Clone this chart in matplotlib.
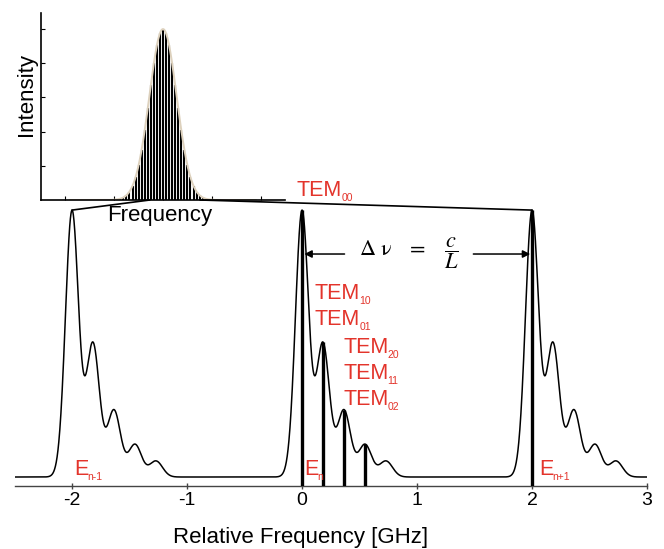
#!/usr/bin/env python3
"""
Longitudinal and transverse cavity modes under a gain profile (sketch).
"""

import matplotlib

matplotlib.use("Agg")
import matplotlib.pyplot as plt
import numpy as np
from matplotlib.patches import ConnectionPatch

plt.rcParams["font.family"] = ["Liberation Sans", "DejaVu Sans"]
plt.rcParams["axes.unicode_minus"] = False
plt.rcParams["mathtext.fontset"] = "stix"

FIG_W, FIG_H = 664, 549
RED = "#e3342b"

# longitudinal mode centres (GHz) and transverse mode offsets / strengths
LONG_MODES = [-2.0, 0.0, 2.0]
TRANS_OFFSETS = [0.0, 0.182, 0.365, 0.548, 0.73]
TRANS_AMPS = [1.0, 0.5, 0.25, 0.122, 0.06]
LINE_SIGMA = 0.057

# thick mode markers
BAR_FREQS = [0.0, 0.182, 0.365, 0.548, 2.0]

X_TICKS = [-2, -1, 0, 1, 2, 3]
X_TICK_LABELS = ["-2", "-1", "0", "1", "2", "3"]

# inset gain profile and comb
GAIN_CENTER = 2.5
GAIN_SIGMA = 0.28
GAIN_PEAK = 5.0
COMB_START, COMB_STOP, COMB_STEP = 1.25, 3.75, 0.0625
INSET_XTICKS = [0.5, 1.5, 2.5, 3.5, 4.5]
INSET_YTICKS = [1, 2, 3, 4, 5]


def px_box(left, top, right, bottom):
    return [left / FIG_W, 1 - bottom / FIG_H, (right - left) / FIG_W, (bottom - top) / FIG_H]


def spectrum(x):
    y = np.zeros_like(x, dtype=float)
    for centre in LONG_MODES:
        for off, amp in zip(TRANS_OFFSETS, TRANS_AMPS):
            y += amp * np.exp(-((x - centre - off) ** 2) / (2 * LINE_SIGMA**2))
    return y


def gain(x):
    return GAIN_PEAK * np.exp(-((x - GAIN_CENTER) ** 2) / (2 * GAIN_SIGMA**2))


def sub_label(fig, ax, x, y, main, sub, renderer):
    t = ax.text(x, y, main, color=RED, fontsize=15.5, ha="left", va="baseline", clip_on=False)
    bb = t.get_window_extent(renderer)
    disp = ax.transData.transform((x, y))
    fig.text((bb.x1 - 1) / FIG_W, (disp[1] - 5) / FIG_H, sub, color=RED, fontsize=7.5,
             ha="left", va="baseline")


fig = plt.figure(figsize=(FIG_W / 100, FIG_H / 100), dpi=100)

# main axes
ax = fig.add_axes(px_box(14.5, 200, 647, 486))
xs = np.linspace(-2.5, 3.0, 3000)
ax.plot(xs, spectrum(xs), color="black", lw=1.1, zorder=3)
ybot = -0.0338
bar_tops = spectrum(np.array(BAR_FREQS))
ax.vlines(BAR_FREQS, ybot, bar_tops, color="black", lw=2.4, zorder=4)
ax.set_xlim(-2.5, 3.0)
ax.set_ylim(ybot, 1.041)
for side in ("left", "right", "top"):
    ax.spines[side].set_visible(False)
ax.spines["bottom"].set_color("#444444")
ax.spines["bottom"].set_linewidth(1.0)
ax.set_yticks([])
ax.set_xticks(X_TICKS)
ax.set_xticklabels(X_TICK_LABELS, fontsize=14)
ax.tick_params(axis="x", direction="inout", length=5, width=1.0, color="#444444", pad=2)

fig.text(301 / FIG_W, 1 - 538 / FIG_H, "Relative Frequency [GHz]", fontsize=16,
         ha="center", va="center")

# free spectral range arrow
arrow_y = 0.838
arrow_kw = dict(arrowstyle="-|>", color="black", lw=1.1, mutation_scale=11, shrinkA=0, shrinkB=0)
ax.annotate("", xy=(0.02, arrow_y), xytext=(0.37, arrow_y), arrowprops=arrow_kw)
ax.annotate("", xy=(1.985, arrow_y), xytext=(1.49, arrow_y), arrowprops=arrow_kw)
ax.text(0.93, arrow_y + 0.005, r"$\Delta\ \mathrm{\nu}\ \ \ =\ \ \ \dfrac{c}{L}$", fontsize=16,
        ha="center", va="center")

# inset: gain profile with comb
ax_in = fig.add_axes(px_box(41, 13, 285, 200))
comb = np.arange(COMB_START, COMB_STOP + 1e-9, COMB_STEP)
ax_in.vlines(comb, 0, gain(comb), color="black", lw=1.5, zorder=1)
gx = np.linspace(0.6, 4.4, 600)
ax_in.plot(gx, gain(gx), color="#ddd1bd", lw=1.4, zorder=2)
ax_in.set_xlim(0, 5)
ax_in.set_ylim(0, 5.47)
ax_in.spines["right"].set_visible(False)
ax_in.spines["top"].set_visible(False)
for side in ("left", "bottom"):
    ax_in.spines[side].set_linewidth(1.2)
    ax_in.spines[side].set_zorder(3)
ax_in.set_xticks(INSET_XTICKS)
ax_in.set_yticks(INSET_YTICKS)
ax_in.set_xticklabels([])
ax_in.set_yticklabels([])
ax_in.tick_params(direction="in", length=3, width=0.8)
fig.text(26.5 / FIG_W, 1 - 94 / FIG_H, "Intensity", fontsize=16, rotation=90,
         ha="center", va="center")
fig.text(159.5 / FIG_W, 1 - 216 / FIG_H, "Frequency", fontsize=16, ha="center", va="center")

# zoom lines from inset to neighbouring longitudinal modes
peak_val = float(spectrum(np.array([0.0]))[0])
for xa, xb in ((-2.0, 2.23), (2.0, 3.26)):
    con = ConnectionPatch(xyA=(xa, peak_val), coordsA=ax.transData,
                          xyB=(xb, 0), coordsB=ax_in.transData,
                          color="black", lw=1.2)
    fig.add_artist(con)

# mode labels
fig.canvas.draw()
renderer = fig.canvas.get_renderer()
labels = [
    (-0.044, 1.056, "TEM", "00"),
    (0.113, 0.669, "TEM", "10"),
    (0.113, 0.571, "TEM", "01"),
    (0.357, 0.466, "TEM", "20"),
    (0.357, 0.368, "TEM", "11"),
    (0.357, 0.271, "TEM", "02"),
    (-1.982, 0.0075, "E", "n-1"),
    (0.017, 0.0075, "E", "n"),
    (2.061, 0.0075, "E", "n+1"),
]
for x, y, main, sub in labels:
    sub_label(fig, ax, x, y, main, sub, renderer)

fig.savefig("out.png", dpi=100)
plt.close(fig)
